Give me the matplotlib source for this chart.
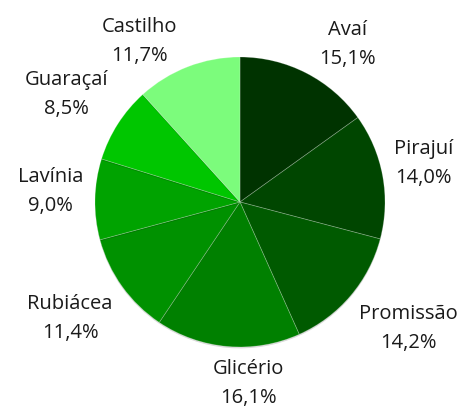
import matplotlib
matplotlib.use("Agg")
import numpy as np
import matplotlib.pyplot as plt
import matplotlib.patheffects as pe

cities = ["Avaí", "Pirajuí", "Promissão", "Glicério", "Rubiácea", "Lavínia", "Guaraçaí", "Castilho"]
shares = [15.1, 14.0, 14.2, 16.1, 11.4, 9.0, 8.5, 11.7]
colors = ["#003300", "#004600", "#005a00", "#008000", "#009100", "#00a300", "#00c600", "#7cfc7c"]

# small nudges (in pie radii) for labels the original layout moved
nudge = {"Lavínia": (0.0, 0.05), "Glicério": (0.2, 0.0), "Avaí": (0.05, -0.04),
         "Castilho": (-0.07, -0.06)}

plt.rcParams["font.family"] = ["Open Sans", "DejaVu Sans"]

R_PX = 145  # pie radius in pixels
fig = plt.figure(figsize=(4.61, 4.10), dpi=100)
ax = fig.add_axes([0, 0, 1, 1])

wedges, _ = ax.pie(shares, colors=colors, startangle=90, counterclock=False, radius=1,
                   wedgeprops=dict(edgecolor=(1, 1, 1, 0.25), linewidth=0.6))
ax.set_xlim(-240 / R_PX, 221 / R_PX)
ax.set_ylim(-207 / R_PX, 203 / R_PX)
ax.set_aspect("auto")
ax.axis("off")
for w in wedges:
    w.set_path_effects([pe.SimplePatchShadow(offset=(0, -1), alpha=0.15, shadow_rgbFace="black"), pe.Normal()])

fig.canvas.draw()
renderer = fig.canvas.get_renderer()
for w, city, v in zip(wedges, cities, shares):
    ang = np.deg2rad((w.theta1 + w.theta2) / 2)
    c, s = np.cos(ang), np.sin(ang)
    label = f"{city}\n{str(v).replace('.', ',')}%"
    t = ax.text(0, 0, label, ha="center", va="center", fontsize=14.5, color="#1a1a1a",
                linespacing=1.6)
    bb = t.get_window_extent(renderer)
    hw, hh = bb.width / 2 / R_PX, bb.height / 2 / R_PX
    px, py = 1.08 * c, 1.08 * s
    dx = hw * np.clip(c * 2.5, -1, 1)
    dy = hh * np.clip(s * 2.5, -1, 1)
    nx, ny = nudge.get(city, (0, 0))
    t.set_position((px + dx + nx, py + dy + ny))

fig.savefig("out.png", dpi=100)
